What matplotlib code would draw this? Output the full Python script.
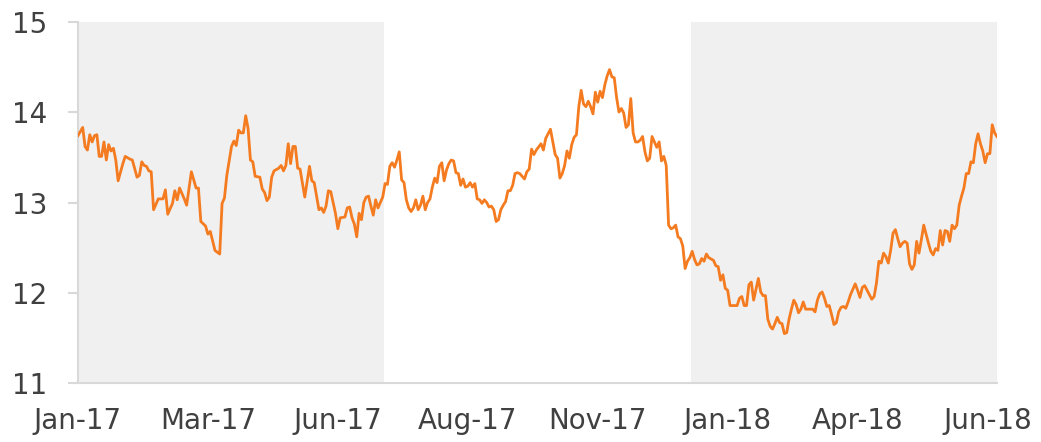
import matplotlib
matplotlib.use('Agg')
import matplotlib.pyplot as plt
import numpy as np
import pandas as pd

# business-day calendar the series runs on
start_date = '2017-01-02'
n_days = 390

# business-day number of each reading, and the rate at that day
day = [0, 2, 3, 4, 5, 6, 7, 8, 9, 10, 11, 12, 13, 14, 15, 16, 17, 19, 20, 22,
       23, 25, 26, 27, 28, 29, 30, 31, 32, 34, 36, 37, 38, 40, 41, 42, 43, 45, 46, 48,
       50, 51, 52, 54, 55, 56, 58, 60, 61, 62, 63, 65,
       66, 67, 68, 69, 70, 71, 72, 73, 74, 75, 77, 78, 79, 80, 81, 82, 83, 85,
       86, 87, 88, 89, 90, 91, 92, 93, 94, 96, 98, 99, 100, 102, 103, 104, 105, 106,
       107, 109, 110, 111, 113, 114, 115, 116, 117, 118, 119, 120, 121, 122, 123, 124,
       125, 126, 127, 129,
       130, 131, 132, 133, 134, 135, 136, 137, 138, 139, 140, 141, 142, 143, 144, 145,
       146, 147, 148, 149, 150, 151, 152, 153, 154, 155, 156, 157, 158, 159, 160, 161,
       162, 163, 164, 165, 166, 167, 168, 169, 170, 171, 172, 173, 174, 175, 176, 177,
       178, 179, 180, 181, 182, 183, 184, 185, 186, 187, 189, 190, 191, 192,
       193, 194, 196, 197, 198, 200, 201, 202, 203, 204, 205, 206, 207, 208, 209, 210,
       211, 212, 213, 214, 215, 216, 217, 218, 219, 220, 221, 222, 223, 224, 225, 226,
       227, 228, 229, 230, 231, 232, 233, 234, 235, 236, 237, 238, 239, 240, 241, 242,
       243, 244, 245, 246, 247, 248, 249, 250, 251, 252, 253, 254, 255, 256, 257, 258,
       259, 260, 261, 262, 263, 264, 265, 266, 267, 269, 270, 271, 272, 273, 274, 275,
       276, 278, 279, 280, 281, 282, 283, 284, 285, 286, 287, 288, 289, 290, 291, 292,
       293, 294, 295, 296, 297, 298, 299, 300, 301, 302, 303, 304, 305, 306, 307, 308,
       310, 311, 312, 313, 314, 315, 316, 317, 318, 319, 320, 321, 322, 323, 324,
       325, 326, 327, 329, 330, 331, 332, 333, 334, 336, 337, 338, 339, 340, 341, 342,
       343, 344, 345, 346, 347, 348, 349, 350, 351, 352, 353, 354, 355, 356, 357, 358,
       359, 360, 361, 362, 363, 364, 365, 366, 367, 368, 369, 370, 371, 372, 373, 374,
       375, 376, 377, 378, 379, 380, 381, 382, 383, 384, 385, 386, 387, 388, 389]

rate = [13.74, 13.83, 13.62, 13.58, 13.75, 13.67, 13.74, 13.75, 13.51, 13.51, 13.67, 13.47,
        13.64, 13.57, 13.60, 13.47, 13.24, 13.43, 13.51, 13.48, 13.47, 13.28, 13.30, 13.45,
        13.41, 13.40, 13.35, 13.34, 12.92, 13.04, 13.04, 13.14, 12.87, 12.99, 13.13, 13.03,
        13.16, 13.04, 12.97, 13.34, 13.16, 13.16, 12.79, 12.74, 12.65, 12.68, 12.47, 12.43,
        12.99, 13.05, 13.30, 13.62,
        13.68, 13.63, 13.80, 13.77, 13.77, 13.96, 13.82, 13.47, 13.45, 13.29, 13.28, 13.15,
        13.11, 13.02, 13.06, 13.28, 13.35, 13.38, 13.41, 13.35, 13.41, 13.65, 13.43, 13.62,
        13.62, 13.38, 13.37, 13.06, 13.40, 13.24, 13.22, 12.92, 12.94, 12.89, 12.96, 13.13,
        13.12, 12.88, 12.71, 12.83, 12.84, 12.94, 12.95, 12.83, 12.76, 12.62, 12.88, 12.81,
        13.00, 13.06, 13.07, 12.96, 12.86, 13.03, 12.94, 13.06,
        13.21, 13.20, 13.40, 13.44, 13.39, 13.47, 13.56, 13.25, 13.22, 13.03, 12.94, 12.90,
        12.94, 13.03, 12.92, 12.97, 13.07, 12.92, 13.00, 13.04, 13.17, 13.27, 13.22, 13.40,
        13.44, 13.24, 13.36, 13.43, 13.47, 13.46, 13.33, 13.32, 13.19, 13.26, 13.17, 13.18,
        13.22, 13.17, 13.21, 13.04, 13.03, 12.99, 13.03, 13.00, 12.95, 12.96, 12.92, 12.79,
        12.81, 12.92, 12.97, 13.01, 13.13, 13.13, 13.19, 13.32, 13.33, 13.32, 13.26, 13.34,
        13.37, 13.59,
        13.53, 13.58, 13.65, 13.58, 13.71, 13.81, 13.67, 13.53, 13.49, 13.27, 13.32, 13.41,
        13.57, 13.49, 13.64, 13.72, 13.75, 14.06, 14.24, 14.09, 14.06, 14.12, 14.06, 13.98,
        14.22, 14.11, 14.23, 14.16, 14.30, 14.40, 14.47, 14.39, 14.38, 14.16, 14.00, 14.04,
        13.99, 13.83, 13.86, 14.15, 13.77, 13.67, 13.67, 13.69, 13.73, 13.56, 13.46, 13.49,
        13.73, 13.67, 13.61, 13.67, 13.46, 13.51, 13.41, 12.75, 12.71, 12.72, 12.75, 12.62,
        12.60, 12.52, 12.27, 12.35,
        12.39, 12.46, 12.37, 12.31, 12.32, 12.38, 12.35, 12.43, 12.39, 12.36, 12.30, 12.29,
        12.14, 12.20, 12.05, 12.03, 11.86, 11.86, 11.86, 11.94, 11.96, 11.86, 11.86, 12.09,
        12.12, 11.92, 12.04, 12.16, 12.01, 11.97, 11.97, 11.71, 11.63, 11.60, 11.66, 11.73,
        11.67, 11.66, 11.55, 11.56, 11.71, 11.82, 11.92, 11.87, 11.78, 11.82, 11.90, 11.82,
        11.82, 11.82, 11.79, 11.92, 11.99, 12.01, 11.94, 11.85, 11.86, 11.76, 11.65, 11.67,
        11.79, 11.84, 11.85,
        11.83, 11.90, 11.98, 12.10, 12.03, 11.95, 12.06, 12.08, 12.03, 11.93, 11.96, 12.11,
        12.35, 12.33, 12.44, 12.40, 12.33, 12.47, 12.66, 12.70, 12.60, 12.51, 12.55, 12.57,
        12.55, 12.32, 12.26, 12.31, 12.57, 12.44, 12.59, 12.75, 12.65, 12.55, 12.46, 12.42,
        12.49, 12.47, 12.69, 12.53, 12.69, 12.68, 12.57, 12.75, 12.71, 12.75, 12.97, 13.07,
        13.16, 13.32, 13.32, 13.45, 13.44, 13.65, 13.76, 13.65, 13.57, 13.44, 13.54, 13.54,
        13.86, 13.77, 13.73]

# first halves of each year are shaded
shade_from = ['2017-01-01', '2018-01-01']
shade_to = ['2017-07-01', '2018-07-01']

tick_every = 55
y_ticks = [11, 12, 13, 14, 15]

line_col = '#F47B20'
shade_col = '#F0F0F0'
axis_col = '#D9D9D9'
text_col = '#404040'

bdays = pd.bdate_range(start_date, periods=n_days)

fig = plt.figure(figsize=(10.41, 4.42), dpi=100)
ax = fig.add_axes([0.0749, 0.1328, 0.8828, 0.8181])

for s, e in zip(shade_from, shade_to):
    x0 = bdays.searchsorted(pd.Timestamp(s)) - 0.5
    x1 = bdays.searchsorted(pd.Timestamp(e)) - 0.5
    ax.axvspan(x0, x1, color=shade_col, lw=0, zorder=0)

ax.plot(day, rate, color=line_col, lw=2.0, zorder=3)

ax.set_xlim(0, n_days - 1)
ax.set_ylim(11, 15)

xt = np.arange(0, n_days, tick_every)
ax.set_xticks(xt)
ax.set_xticklabels([bdays[i].strftime('%b-%y') for i in xt])
ax.set_yticks(y_ticks)

for side in ['top', 'right']:
    ax.spines[side].set_visible(False)
for side in ['left', 'bottom']:
    ax.spines[side].set_color(axis_col)
    ax.spines[side].set_linewidth(1.5)

ax.tick_params(axis='y', length=7, width=1.5, color=axis_col, pad=15,
               labelsize=20, labelcolor=text_col)
ax.tick_params(axis='x', length=0, pad=17, labelsize=20, labelcolor=text_col)

fig.savefig('out.png', dpi=100)
